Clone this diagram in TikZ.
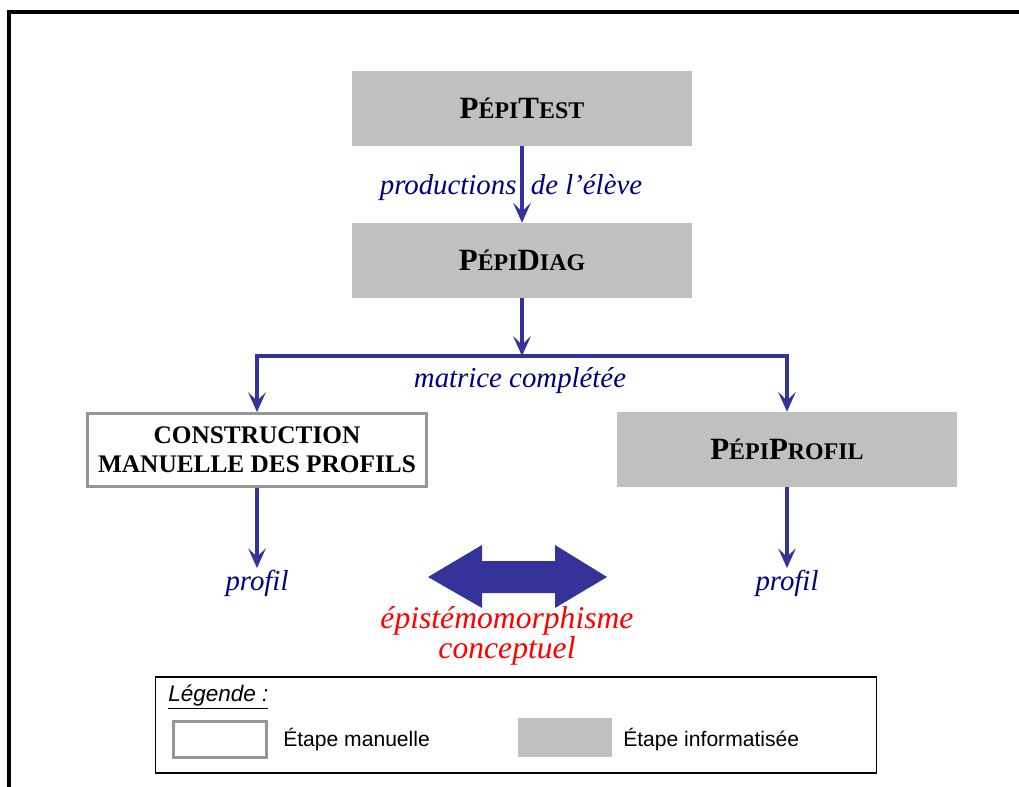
\documentclass[tikz,border=0pt]{standalone}
\usepackage{fontspec}
\setmainfont{Liberation Serif}
\setsansfont{Liberation Sans}
\usepackage{tikz}
\usetikzlibrary{positioning, arrows.meta}
\definecolor{flow}{HTML}{333399}
\definecolor{navy}{HTML}{000080}
\definecolor{toolgray}{HTML}{C0C0C0}
\definecolor{rimgray}{HTML}{969696}
\definecolor{alert}{HTML}{FF0000}
\newcommand{\scpart}[1]{{\fontsize{17}{18}\selectfont #1}}
\newcommand{\pepiname}[2]{P\scpart{ÉPI}#1\scpart{#2}}

\begin{document}
\begin{tikzpicture}[
  x=0.025cm, y=-0.025cm,
  tool/.style={rectangle, fill=toolgray, inner sep=0pt, minimum width=8.5cm, minimum height=1.875cm, font=\fontsize{22}{26}\selectfont\bfseries},
  manual/.style={rectangle, draw=rimgray, fill=white, line width=2pt, inner sep=0pt},
  link/.style={draw=flow, line width=2.8pt, -{Stealth[length=14pt, width=12.5pt, inset=6pt]}},
  flowtext/.style={font=\fontsize{20.5}{24}\selectfont\itshape, text=navy, inner sep=1pt},
  keytext/.style={font=\sffamily\fontsize{15}{18}\selectfont, anchor=west, inner sep=0pt}
]
  \useasboundingbox (0,0) rectangle (1019,787);
  \draw[line width=2.2pt] (9,787) -- (9,12) -- (1019,12);

  \node[tool] (test) at (522,108.5) {\pepiname{T}{EST}};
  \node[tool] (diag) at (522,260.5) {\pepiname{D}{IAG}};
  \node[manual, minimum width=8.475cm, minimum height=1.825cm, align=center,
        font=\fontsize{18}{20.5}\selectfont\bfseries] (construct) at (257,450)
    {CONSTRUCTION\\MANUELLE DES PROFILS};
  \node[tool] (profil) at (787,449.5) {\pepiname{P}{ROFIL}};
  \coordinate (split) at (522,356);

  \node[flowtext] (prod) at (511,188) {productions~ de l’élève};
  \node[flowtext] (matrix) at (520,381) {matrice complétée};
  \node[flowtext] (outleft) at (257,583) {profil};
  \node[flowtext] (outright) at (787,583) {profil};

  \draw[link] (test) -- (diag);
  \draw[link] (diag) -- (split);
  \draw[link] (split) -| (construct.north);
  \draw[link] (split) -| (profil.north);
  \draw[link] (construct) -- (outleft);
  \draw[link] (profil) -- (outright);

  % double arrow between the two profiles
  \fill[flow] (428,577) -- (482,545) -- (482,561) -- (555,561) -- (555,545)
    -- (607,577) -- (555,608) -- (555,593) -- (482,593) -- (482,608) -- cycle;
  \node[font=\fontsize{22.5}{21.5}\selectfont\itshape, text=alert, align=center] (epist) at (507,636)
    {épistémomorphisme\\conceptuel};

  % legend
  \node[draw, line width=0.8pt, inner sep=0pt, minimum width=18cm, minimum height=2.4cm] (legend) at (516,725) {};
  \node[keytext, font=\sffamily\itshape\fontsize{16}{18}\selectfont] (legtitle) at (168,697) {\underline{Légende :}};
  \node[manual, minimum width=2.325cm, minimum height=0.9cm] (keyman) at (220,739.5) {};
  \node[keytext] (keymantext) at (283,740) {Étape manuelle};
  \node[tool, minimum width=2.35cm, minimum height=0.975cm] (keytool) at (565,737.5) {};
  \node[keytext] (keytooltext) at (623,740) {Étape informatisée};
\end{tikzpicture}
\end{document}
